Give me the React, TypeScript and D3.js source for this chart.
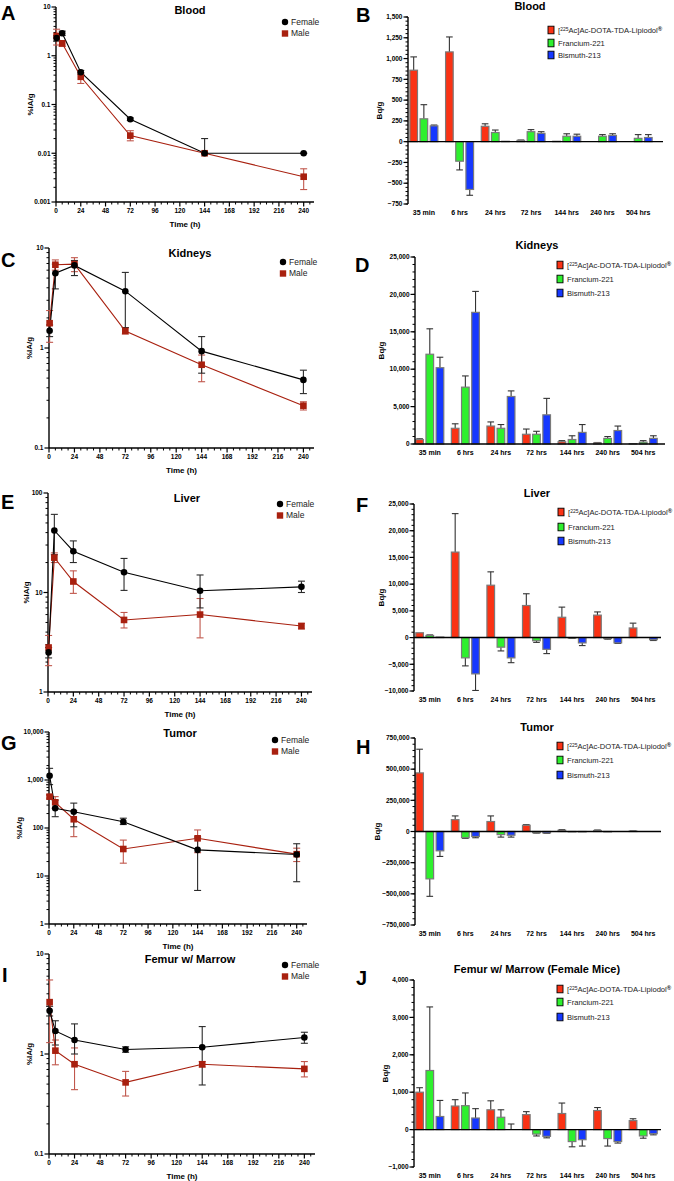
import React, { useEffect, useRef } from 'react';
import * as d3 from 'd3';

const W = 674;
const H = 1181;
const FONT = '"Liberation Sans", Arial, Helvetica, sans-serif';

// ---- shared axes / categories ----
// 35 min sample plotted at ~0.58 h
const lineTimes = [0.58, 6, 24, 72, 144, 240];
const timeTicks = [0, 24, 48, 72, 96, 120, 144, 168, 192, 216, 240];
const barCategories = ['35 min', '6 hrs', '24 hrs', '72 hrs', '144 hrs', '240 hrs', '504 hrs'];
const barSeries = ['Ac225', 'Francium-221', 'Bismuth-213'];
const barColors = ['#fa3214', '#2ef02e', '#1638ff'];

// ---- %IA/g (female / male), mean + error bar ends ----
const bloodFemale = [2.3, 2.9, 0.46, 0.05, 0.01, 0.01];
const bloodFemaleHi = [2.6, 3.2, 0.5, 0.053, 0.02, 0.01];
const bloodFemaleLo = [2.0, 2.6, 0.42, 0.047, 0.01, 0.01];
const bloodMale = [2.55, 1.8, 0.37, 0.023, 0.01, 0.0033];
const bloodMaleHi = [3.5, 2.0, 0.45, 0.029, 0.01, 0.0048];
const bloodMaleLo = [1.66, 1.55, 0.27, 0.018, 0.01, 0.0018];

const kidFemale = [1.49, 5.6, 6.7, 3.7, 0.93, 0.48];
const kidFemaleHi = [1.7, 6.9, 7.5, 5.7, 1.3, 0.6];
const kidFemaleLo = [1.3, 3.9, 5.3, 1.6, 0.56, 0.35];
const kidMale = [1.77, 6.8, 6.9, 1.48, 0.68, 0.265];
const kidMaleHi = [2.37, 7.6, 8.0, 1.6, 0.85, 0.29];
const kidMaleLo = [1.14, 6.0, 5.8, 1.38, 0.46, 0.24];

const livFemale = [2.5, 42, 26, 16, 10.4, 11.4];
const livFemaleHi = [2.8, 61, 33, 22, 15, 13];
const livFemaleLo = [2.2, 24, 20, 10.5, 7, 10];
const livMale = [2.8, 22.4, 12.9, 5.3, 6.0, 4.6];
const livMaleHi = [3.7, 25, 16.5, 6.3, 8.7, 4.9];
const livMaleLo = [1.84, 20, 9.8, 4.4, 3.5, 4.3];

const tumFemale = [1230, 257, 218, 135, 35, 28];
const tumFemaleHi = [1750, 380, 330, 160, 65, 47];
const tumFemaleLo = [800, 172, 106, 118, 5, 7.6];
const tumMale = [450, 343, 152, 36.5, 61, 28.5];
const tumMaleHi = [480, 450, 230, 56, 91, 38];
const tumMaleLo = [420, 260, 66, 18.5, 30.6, 20];

const femFemale = [2.7, 1.7, 1.38, 1.11, 1.17, 1.46];
const femFemaleHi = [3.0, 2.15, 2.0, 1.18, 1.88, 1.65];
const femFemaleLo = [2.4, 1.23, 1.0, 1.04, 0.49, 1.28];
const femMale = [3.3, 1.08, 0.79, 0.52, 0.79, 0.71];
const femMaleHi = [5.5, 1.38, 1.15, 0.67, 0.84, 0.84];
const femMaleLo = [1.3, 0.78, 0.44, 0.38, 0.74, 0.59];

// ---- Bq/g (Ac-225 / Fr-221 / Bi-213), mean + SD ----
const bloodBq = [
  [860, 1080, 185, 15, 5, 0, 0],
  [275, -235, 110, 120, 65, 65, 40],
  [190, -575, 5, 100, 65, 75, 50],
];
const bloodBqErr = [
  [160, 180, 30, 5, 0, 0, 0],
  [170, 105, 30, 25, 30, 20, 45],
  [10, 70, 0, 20, 25, 20, 35],
];
const kidBq = [
  [600, 2100, 2400, 1300, 300, 150, 50],
  [12000, 7600, 2100, 1300, 600, 750, 250],
  [10200, 17600, 6350, 3900, 1550, 1800, 750],
];
const kidBqErr = [
  [100, 600, 550, 700, 150, 50, 10],
  [3400, 1500, 500, 400, 500, 250, 200],
  [1400, 2800, 750, 2200, 1050, 600, 350],
];
const livBq = [
  [900, 16000, 9800, 6000, 3800, 4200, 1800],
  [400, -3800, -1800, -600, -100, -200, -50],
  [100, -6800, -3800, -2200, -1000, -1000, -400],
];
const livBqErr = [
  [0, 7200, 2500, 2200, 1900, 600, 900],
  [100, 1500, 700, 300, 50, 100, 0],
  [0, 3100, 900, 800, 500, 100, 150],
];
const tumBq = [
  [470000, 95000, 80000, 50000, 10000, 8000, 3000],
  [-380000, -50000, -25000, -10000, -3000, -3000, -2000],
  [-155000, -40000, -30000, -12000, -3000, -2000, -1000],
];
const tumBqErr = [
  [190000, 30000, 45000, 5000, 5000, 4000, 1000],
  [140000, 5000, 20000, 3000, 0, 0, 0],
  [45000, 10000, 15000, 3000, 0, 0, 0],
];
const femBq = [
  [1000, 630, 530, 400, 430, 510, 240],
  [1580, 640, 330, -120, -320, -240, -170],
  [350, 310, 0, -180, -270, -320, -110],
];
const femBqErr = [
  [120, 170, 240, 80, 280, 80, 50],
  [1700, 340, 200, 50, 140, 200, 60],
  [430, 250, 150, 40, 170, 40, 30],
];

type Sel = d3.Selection<SVGSVGElement, unknown, null, undefined>;

interface LinePanel {
  letter: string; letterX: number; letterY: number;
  title: string; titleX: number; titleY: number;
  x0: number; x1: number; yTop: number; yBot: number;
  yDomain: [number, number]; yTicks: number[]; yLabelX: number;
  legendX: number; legendY: number;
  f: number[]; fHi: number[]; fLo: number[];
  m: number[]; mHi: number[]; mLo: number[];
}

interface BarPanel {
  letter: string; letterX: number; letterY: number;
  title: string; titleX: number; titleY: number;
  axisX: number; axisEnd: number; b0: number; b1: number;
  yTop: number; yBot: number; yDomain: [number, number];
  yTicks: number[]; minorStep: number; yLabelX: number;
  legendX: number; legendY: number[];
  values: number[][]; errs: number[][];
}

const fmtLog = (v: number) => (v >= 1 ? d3.format(',')(v) : String(v));

function drawLinePanel(svg: Sel, p: LinePanel) {
  const x = d3.scaleLinear().domain([0, 250]).range([p.x0, p.x1]);
  const y = d3.scaleLog().domain(p.yDomain).range([p.yBot, p.yTop]);
  const g = svg.append('g').attr('font-family', FONT);

  // minor log ticks
  const minors: number[] = [];
  for (let d = p.yDomain[0]; d < p.yDomain[1] * 0.999; d *= 10) {
    for (let k = 2; k <= 9; k++) minors.push(d * k);
  }
  g.selectAll('.ymin').data(minors).join('line')
    .attr('x1', p.x0 - 2.5).attr('x2', p.x0)
    .attr('y1', d => y(d)).attr('y2', d => y(d))
    .attr('stroke', '#000').attr('stroke-width', 1);
  g.selectAll('.ymaj').data(p.yTicks).join('line')
    .attr('x1', p.x0 - 4.5).attr('x2', p.x0)
    .attr('y1', d => y(d)).attr('y2', d => y(d))
    .attr('stroke', '#000').attr('stroke-width', 1.2);
  g.selectAll('.ylab').data(p.yTicks).join('text')
    .attr('x', p.x0 - 5.5).attr('y', d => y(d)).attr('dy', '0.35em')
    .attr('text-anchor', 'end').attr('font-size', 6.5).attr('font-weight', 'bold')
    .text(d => fmtLog(d));

  // x ticks
  const xMinor = d3.range(6, 250, 6).filter(t => t % 24 !== 0);
  g.selectAll('.xmin').data(xMinor).join('line')
    .attr('x1', d => x(d)).attr('x2', d => x(d))
    .attr('y1', p.yBot).attr('y2', p.yBot + 2.5)
    .attr('stroke', '#000').attr('stroke-width', 1);
  g.selectAll('.xmaj').data(timeTicks).join('line')
    .attr('x1', d => x(d)).attr('x2', d => x(d))
    .attr('y1', p.yBot).attr('y2', p.yBot + 4.5)
    .attr('stroke', '#000').attr('stroke-width', 1.2);
  g.selectAll('.xlab').data(timeTicks).join('text')
    .attr('x', d => x(d)).attr('y', p.yBot + 11)
    .attr('text-anchor', 'middle').attr('font-size', 6.5).attr('font-weight', 'bold')
    .text(d => d);

  // axis lines
  g.append('line').attr('x1', p.x0).attr('x2', p.x0).attr('y1', p.yTop).attr('y2', p.yBot)
    .attr('stroke', '#000').attr('stroke-width', 1.4);
  g.append('line').attr('x1', p.x0).attr('x2', p.x1).attr('y1', p.yBot).attr('y2', p.yBot)
    .attr('stroke', '#000').attr('stroke-width', 1.4);

  g.append('text').attr('x', (p.x0 + p.x1) / 2).attr('y', p.yBot + 25)
    .attr('text-anchor', 'middle').attr('font-size', 8).attr('font-weight', 'bold')
    .text('Time (h)');
  g.append('text')
    .attr('transform', `translate(${p.yLabelX},${(p.yTop + p.yBot) / 2}) rotate(-90)`)
    .attr('text-anchor', 'middle').attr('font-size', 8).attr('font-weight', 'bold')
    .text('%IA/g');

  const series = [
    { v: p.m, hi: p.mHi, lo: p.mLo, line: '#a8200f', err: '#c0574c', male: true },
    { v: p.f, hi: p.fHi, lo: p.fLo, line: '#000', err: '#2a2a2a', male: false },
  ];
  const line = d3.line<number>().x((_, i) => x(lineTimes[i])).y(d => y(d));

  series.forEach(s => {
    lineTimes.forEach((t, i) => {
      const cx = x(t);
      g.append('line').attr('x1', cx).attr('x2', cx).attr('y1', y(s.hi[i])).attr('y2', y(s.lo[i]))
        .attr('stroke', s.err).attr('stroke-width', 1.1);
      [s.hi[i], s.lo[i]].forEach(v => {
        g.append('line').attr('x1', cx - 3.5).attr('x2', cx + 3.5).attr('y1', y(v)).attr('y2', y(v))
          .attr('stroke', s.err).attr('stroke-width', 1.1);
      });
    });
  });
  series.forEach(s => {
    g.append('path').datum(s.v).attr('d', line).attr('fill', 'none')
      .attr('stroke', s.line).attr('stroke-width', 1.1);
  });
  series.forEach(s => {
    s.v.forEach((v, i) => {
      if (s.male) {
        g.append('rect').attr('x', x(lineTimes[i]) - 3.3).attr('y', y(v) - 3.3)
          .attr('width', 6.6).attr('height', 6.6).attr('fill', s.line);
      } else {
        g.append('circle').attr('cx', x(lineTimes[i])).attr('cy', y(v)).attr('r', 3.3).attr('fill', '#000');
      }
    });
  });

  // legend
  const lg = g.append('g').attr('font-size', 8.5);
  lg.append('circle').attr('cx', p.legendX).attr('cy', p.legendY).attr('r', 3.2).attr('fill', '#000');
  lg.append('text').attr('x', p.legendX + 6).attr('y', p.legendY).attr('dy', '0.35em').attr('fill', '#222').text('Female');
  lg.append('rect').attr('x', p.legendX - 3.2).attr('y', p.legendY + 11.5 - 3.2)
    .attr('width', 6.4).attr('height', 6.4).attr('fill', '#a8200f');
  lg.append('text').attr('x', p.legendX + 6).attr('y', p.legendY + 11.5).attr('dy', '0.35em').attr('fill', '#222').text('Male');

  g.append('text').attr('x', p.titleX).attr('y', p.titleY).attr('text-anchor', 'middle')
    .attr('font-size', 11).attr('font-weight', 'bold').text(p.title);
  g.append('text').attr('x', p.letterX).attr('y', p.letterY).attr('font-size', 20)
    .attr('font-weight', 'bold').text(p.letter);
}

function drawBarPanel(svg: Sel, p: BarPanel) {
  const x = d3.scaleBand().domain(barCategories).range([p.b0, p.b1]);
  const xs = d3.scaleBand().domain(barSeries).range([-14, 14]).paddingInner(0.25);
  const y = d3.scaleLinear().domain(p.yDomain).range([p.yBot, p.yTop]);
  const g = svg.append('g').attr('font-family', FONT);

  const minors = d3.range(p.yDomain[0], p.yDomain[1] + p.minorStep / 2, p.minorStep);
  g.selectAll('.ymin').data(minors).join('line')
    .attr('x1', p.axisX - 2.5).attr('x2', p.axisX)
    .attr('y1', d => y(d)).attr('y2', d => y(d))
    .attr('stroke', '#000').attr('stroke-width', 1);
  g.selectAll('.ymaj').data(p.yTicks).join('line')
    .attr('x1', p.axisX - 4.5).attr('x2', p.axisX)
    .attr('y1', d => y(d)).attr('y2', d => y(d))
    .attr('stroke', '#000').attr('stroke-width', 1.2);
  g.selectAll('.ylab').data(p.yTicks).join('text')
    .attr('x', p.axisX - 5.5).attr('y', d => y(d)).attr('dy', '0.35em')
    .attr('text-anchor', 'end').attr('font-size', 6.5).attr('font-weight', 'bold')
    .text(d => d3.format(',')(d));

  g.selectAll('.xlab').data(barCategories).join('text')
    .attr('x', d => x(d)! + x.bandwidth() / 2).attr('y', p.yBot + 11)
    .attr('text-anchor', 'middle').attr('font-size', 7).attr('font-weight', 'bold')
    .text(d => d);

  // bars + one-sided error bars
  barSeries.forEach((s, si) => {
    barCategories.forEach((c, ci) => {
      const v = p.values[si][ci];
      const e = p.errs[si][ci];
      const bx = x(c)! + x.bandwidth() / 2 + xs(s)!;
      const bw = xs.bandwidth();
      const cx = bx + bw / 2;
      if (e > 0) {
        const end = v + (v < 0 ? -e : e);
        g.append('line').attr('x1', cx).attr('x2', cx).attr('y1', y(v)).attr('y2', y(end))
          .attr('stroke', '#333').attr('stroke-width', 1.1);
        g.append('line').attr('x1', cx - bw / 2 + 0.5).attr('x2', cx + bw / 2 - 0.5).attr('y1', y(end)).attr('y2', y(end))
          .attr('stroke', '#333').attr('stroke-width', 1.1);
      }
      if (Math.abs(y(v) - y(0)) > 0.3) {
        g.append('rect').attr('x', bx).attr('width', bw)
          .attr('y', Math.min(y(v), y(0))).attr('height', Math.abs(y(v) - y(0)))
          .attr('fill', barColors[si]).attr('stroke', '#7a7a7a').attr('stroke-width', 1.2);
      }
    });
  });

  g.append('line').attr('x1', p.axisX).attr('x2', p.axisX).attr('y1', p.yTop).attr('y2', p.yBot)
    .attr('stroke', '#000').attr('stroke-width', 1.4);
  g.append('line').attr('x1', p.axisX).attr('x2', p.axisEnd).attr('y1', y(0)).attr('y2', y(0))
    .attr('stroke', '#000').attr('stroke-width', 1.4);

  g.append('text')
    .attr('transform', `translate(${p.yLabelX},${(p.yTop + p.yBot) / 2}) rotate(-90)`)
    .attr('text-anchor', 'middle').attr('font-size', 8).attr('font-weight', 'bold')
    .text('Bq/g');

  // legend
  const lg = g.append('g').attr('font-size', 7.6).attr('fill', '#222');
  barSeries.forEach((s, i) => {
    const ly = p.legendY[i];
    lg.append('rect').attr('x', p.legendX).attr('y', ly - 3.8).attr('width', 6).attr('height', 7.6)
      .attr('fill', barColors[i]).attr('stroke', '#000').attr('stroke-width', 0.9);
    const t = lg.append('text').attr('x', p.legendX + 10).attr('y', ly).attr('dy', '0.35em');
    if (i === 0) {
      t.append('tspan').text('[');
      t.append('tspan').attr('font-size', 5).attr('dy', '-0.3em').text('225');
      t.append('tspan').attr('dy', '0.3em').text('Ac]Ac-DOTA-TDA-Lipiodol');
      t.append('tspan').attr('font-size', 6).attr('font-weight', 'bold').attr('dy', '-0.35em').text('®');
    } else {
      t.text(s);
    }
  });

  g.append('text').attr('x', p.titleX).attr('y', p.titleY).attr('text-anchor', 'middle')
    .attr('font-size', 11).attr('font-weight', 'bold').text(p.title);
  g.append('text').attr('x', p.letterX).attr('y', p.letterY).attr('font-size', 20)
    .attr('font-weight', 'bold').text(p.letter);
}

const App: React.FC = () => {
  const svgRef = useRef<SVGSVGElement>(null);

  useEffect(() => {
    if (!svgRef.current) return;
    const svg = d3.select(svgRef.current);
    svg.selectAll('*').remove();

    const linePanels: LinePanel[] = [
      { letter: 'A', letterX: 1, letterY: 20, title: 'Blood', titleX: 190, titleY: 14,
        x0: 56, x1: 314, yTop: 7, yBot: 202, yDomain: [0.001, 10], yTicks: [0.001, 0.01, 0.1, 1, 10],
        yLabelX: 33, legendX: 285, legendY: 22,
        f: bloodFemale, fHi: bloodFemaleHi, fLo: bloodFemaleLo, m: bloodMale, mHi: bloodMaleHi, mLo: bloodMaleLo },
      { letter: 'C', letterX: 1, letterY: 267, title: 'Kidneys', titleX: 190, titleY: 257,
        x0: 49, x1: 314, yTop: 248, yBot: 448, yDomain: [0.1, 10], yTicks: [0.1, 1, 10],
        yLabelX: 32, legendX: 283, legendY: 262,
        f: kidFemale, fHi: kidFemaleHi, fLo: kidFemaleLo, m: kidMale, mHi: kidMaleHi, mLo: kidMaleLo },
      { letter: 'E', letterX: 1, letterY: 509, title: 'Liver', titleX: 187, titleY: 502,
        x0: 48, x1: 312, yTop: 493, yBot: 692, yDomain: [1, 100], yTicks: [1, 10, 100],
        yLabelX: 29, legendX: 280, legendY: 504,
        f: livFemale, fHi: livFemaleHi, fLo: livFemaleLo, m: livMale, mHi: livMaleHi, mLo: livMaleLo },
      { letter: 'G', letterX: 1, letterY: 750, title: 'Tumor', titleX: 180, titleY: 737,
        x0: 49, x1: 307, yTop: 732, yBot: 924, yDomain: [1, 10000], yTicks: [1, 10, 100, 1000, 10000],
        yLabelX: 22, legendX: 275, legendY: 740,
        f: tumFemale, fHi: tumFemaleHi, fLo: tumFemaleLo, m: tumMale, mHi: tumMaleHi, mLo: tumMaleLo },
      { letter: 'I', letterX: 2, letterY: 982, title: 'Femur w/ Marrow', titleX: 190, titleY: 963,
        x0: 49, x1: 315, yTop: 954, yBot: 1154, yDomain: [0.1, 10], yTicks: [0.1, 1, 10],
        yLabelX: 32, legendX: 285, legendY: 965,
        f: femFemale, fHi: femFemaleHi, fLo: femFemaleLo, m: femMale, mHi: femMaleHi, mLo: femMaleLo },
    ];

    const barPanels: BarPanel[] = [
      { letter: 'B', letterX: 356, letterY: 22, title: 'Blood', titleX: 530, titleY: 10,
        axisX: 408, axisEnd: 663, b0: 406, b1: 656, yTop: 17, yBot: 204, yDomain: [-750, 1500],
        yTicks: [-750, -500, -250, 0, 250, 500, 750, 1000, 1250, 1500], minorStep: 50, yLabelX: 382,
        legendX: 548, legendY: [30, 43, 55], values: bloodBq, errs: bloodBqErr },
      { letter: 'D', letterX: 355, letterY: 272, title: 'Kidneys', titleX: 537, titleY: 249,
        axisX: 415, axisEnd: 665, b0: 412, b1: 661, yTop: 257, yBot: 444, yDomain: [0, 25000],
        yTicks: [0, 5000, 10000, 15000, 20000, 25000], minorStep: 1000, yLabelX: 384,
        legendX: 557, legendY: [265, 279, 293], values: kidBq, errs: kidBqErr },
      { letter: 'F', letterX: 356, letterY: 512, title: 'Liver', titleX: 537, titleY: 497,
        axisX: 414, axisEnd: 661, b0: 412, b1: 661, yTop: 504, yBot: 691, yDomain: [-10000, 25000],
        yTicks: [-10000, -5000, 0, 5000, 10000, 15000, 20000, 25000], minorStep: 1000, yLabelX: 384,
        legendX: 558, legendY: [512, 527, 541], values: livBq, errs: livBqErr },
      { letter: 'H', letterX: 356, letterY: 754, title: 'Tumor', titleX: 537, titleY: 731,
        axisX: 415, axisEnd: 661, b0: 412, b1: 661, yTop: 738, yBot: 925, yDomain: [-750000, 750000],
        yTicks: [-750000, -500000, -250000, 0, 250000, 500000, 750000], minorStep: 50000, yLabelX: 380,
        legendX: 557, legendY: [746, 760, 775], values: tumBq, errs: tumBqErr },
      { letter: 'J', letterX: 356, letterY: 985, title: 'Femur w/ Marrow (Female Mice)', titleX: 537, titleY: 973,
        axisX: 414, axisEnd: 661, b0: 412, b1: 661, yTop: 980, yBot: 1167, yDomain: [-1000, 4000],
        yTicks: [-1000, 0, 1000, 2000, 3000, 4000], minorStep: 200, yLabelX: 388,
        legendX: 557, legendY: [989, 1002, 1017], values: femBq, errs: femBqErr },
    ];

    linePanels.forEach(p => drawLinePanel(svg as Sel, p));
    barPanels.forEach(p => drawBarPanel(svg as Sel, p));
  }, []);

  return (
    <svg
      ref={svgRef}
      width={W}
      height={H}
      style={{ position: 'absolute', left: 0, top: 0, background: '#fff' }}
    />
  );
};

export default App;
